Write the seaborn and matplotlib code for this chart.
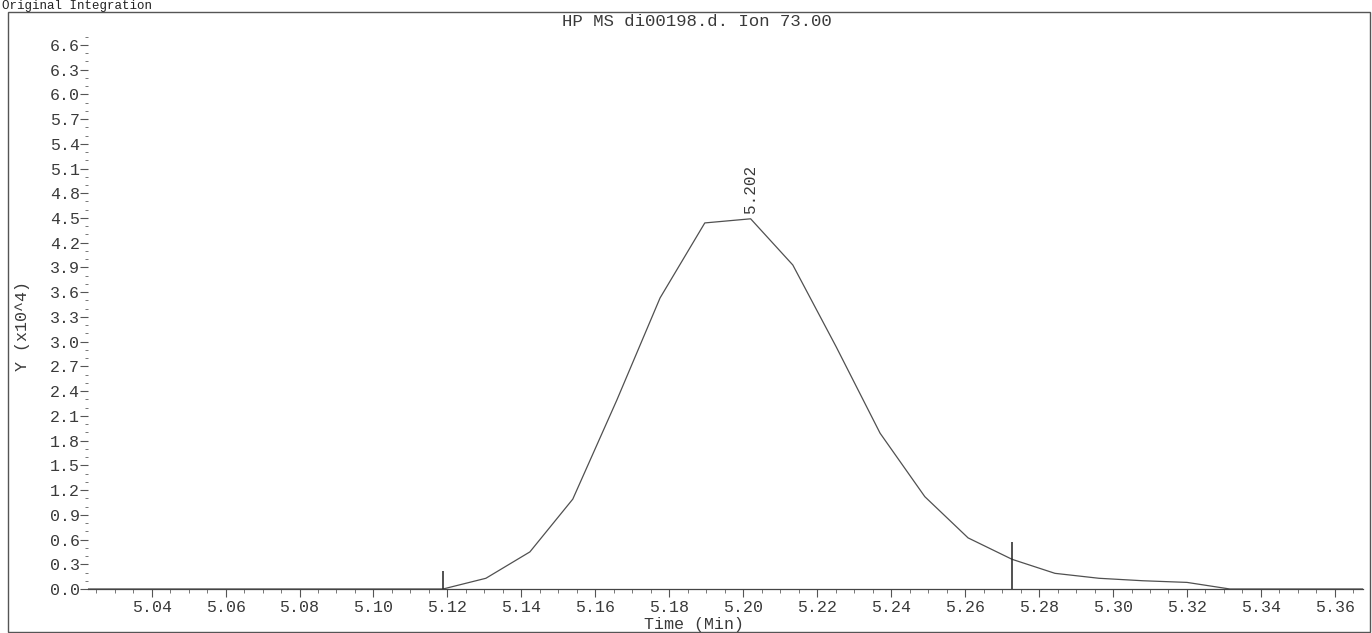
import matplotlib
matplotlib.use("Agg")
import matplotlib.pyplot as plt
from matplotlib.ticker import MultipleLocator, FormatStrFormatter
from matplotlib.patches import Rectangle
import numpy as np
import pandas as pd
import seaborn as sns

# Extracted ion chromatogram, ion 73.00 (abundance in units of 10^4)
scan_time = [5.0228, 5.1188, 5.1304, 5.1423, 5.1539, 5.1658, 5.1775, 5.1896,
             5.2020, 5.2134, 5.2251, 5.2370, 5.2491, 5.2608, 5.2727, 5.2843,
             5.2962, 5.3081, 5.3200, 5.3316, 5.3676]
abundance = [0.00, 0.00, 0.13, 0.45, 1.09, 2.29, 3.53, 4.44,
             4.49, 3.93, 2.94, 1.89, 1.12, 0.62, 0.36, 0.19,
             0.13, 0.10, 0.08, 0.00, 0.00]

# Integration start / end markers
marker_time = [5.1188, 5.2727]
marker_height = [0.22, 0.57]

peak_time = 5.202
peak_abundance = 4.49

title_text = "HP MS di00198.d. Ion 73.00"
header_text = "Original Integration"
x_label = "Time (Min)"
y_label = "Y (x10^4)"

df = pd.DataFrame({"time": scan_time, "abundance": abundance})

sns.set_theme(style="white")
mono = ["Liberation Mono", "DejaVu Sans Mono"]
plt.rcParams["font.family"] = mono

ink = "#3a3a3a"
fig = plt.figure(figsize=(13.72, 6.33), dpi=100)
ax = fig.add_axes([88 / 1372, 44 / 633, (1363 - 88) / 1372, (589 - 30) / 633])

sns.lineplot(data=df, x="time", y="abundance", ax=ax, color="#505050",
             linewidth=0.9, sort=False, estimator=None)

for t, h in zip(marker_time, marker_height):
    ax.vlines(t, 0, h, color="#222222", linewidth=1.1)

ax.annotate(f"{peak_time:.3f}", xy=(peak_time, peak_abundance),
            xytext=(0, 4), textcoords="offset points", rotation=90,
            ha="center", va="bottom", fontsize=11.5, color=ink)

ax.set_xlim(5.0228, 5.3676)
ax.set_ylim(0, 6.78)

ax.xaxis.set_major_locator(MultipleLocator(0.02))
ax.xaxis.set_minor_locator(MultipleLocator(0.005))
ax.xaxis.set_major_formatter(FormatStrFormatter("%.2f"))
ax.yaxis.set_major_locator(MultipleLocator(0.3))
ax.yaxis.set_minor_locator(MultipleLocator(0.1))
ax.yaxis.set_major_formatter(FormatStrFormatter("%.1f"))

ax.tick_params(axis="x", which="major", direction="out", length=6, width=0.8,
               color="#555555", labelsize=12, labelcolor=ink, pad=2,
               bottom=True)
ax.tick_params(axis="x", which="minor", direction="out", length=3, width=0.7,
               color="#777777", bottom=True)
ax.tick_params(axis="y", which="major", direction="out", length=6, width=0.8,
               color="#555555", labelsize=12, labelcolor=ink, pad=0,
               left=True)
ax.tick_params(axis="y", which="minor", direction="out", length=2.5,
               width=0.7, color="#777777", left=True)

for side in ["top", "right", "left"]:
    ax.spines[side].set_visible(False)
ax.spines["bottom"].set_color("#444444")
ax.spines["bottom"].set_linewidth(0.9)

ax.set_xlabel("")
ax.set_ylabel("")

# Labels placed in figure space
fig.text(694 / 1372, 1 - 624 / 633, x_label, ha="center", va="center",
         fontsize=12, color=ink)
fig.text(23 / 1372, 1 - 326 / 633, y_label, rotation=90, ha="center",
         va="center", fontsize=12, color=ink)
fig.text(697 / 1372, 1 - 21 / 633, title_text, ha="center", va="center",
         fontsize=12.5, color=ink)
fig.text(2 / 1372, 1 - 0.5 / 633, header_text, ha="left", va="top",
         fontsize=9, color="#222222")

# Outer frame of the printout
frame = Rectangle((8 / 1372, 1 / 633), (1370 - 8) / 1372, (633 - 12 - 1) / 633,
                  transform=fig.transFigure, fill=False,
                  edgecolor="#555555", linewidth=1.0)
fig.patches.append(frame)

fig.savefig("out.png", dpi=100, facecolor="white")
